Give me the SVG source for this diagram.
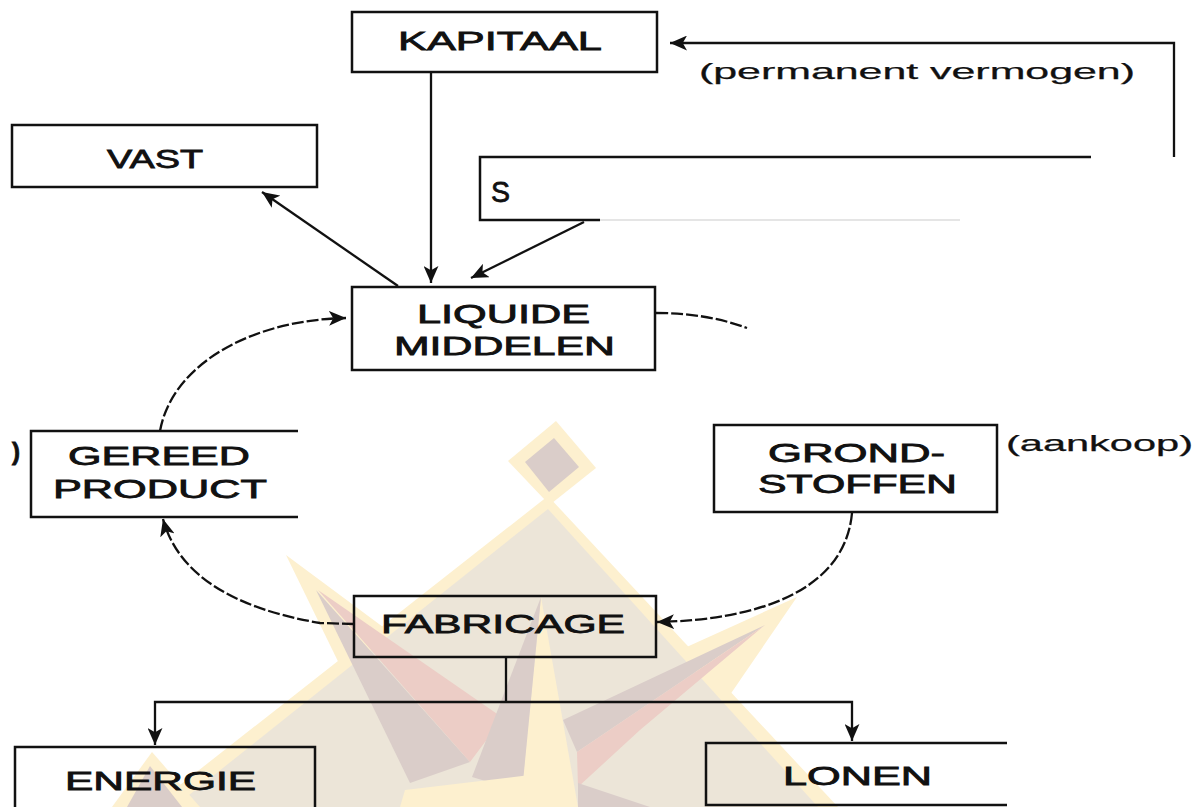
<svg xmlns="http://www.w3.org/2000/svg" width="1198" height="807" viewBox="0 0 1198 807">
<style>
.box{fill:none;stroke:#111;stroke-width:2.5}
.lbl{font-family:"Liberation Sans",Arial,sans-serif;font-size:26px;fill:#111;stroke:#111;stroke-width:0.8}
.note{font-family:"Liberation Sans",Arial,sans-serif;font-size:22px;fill:#111;stroke:#111;stroke-width:0.25}
.con{fill:none;stroke:#111;stroke-width:2.3}
.dash{stroke-dasharray:12 3}
.cream{fill:#fdf0cf}
.beige{fill:#ece5d8}
.mauve{fill:#dacdc9}
.pink{fill:#eccdc6}
</style>
<defs>
<marker id="ah" viewBox="0 0 16 14" refX="16" refY="7" markerWidth="17" markerHeight="15" markerUnits="userSpaceOnUse" orient="auto">
<path d="M0,0 L16,7 L0,14 L4,7 z" fill="#111"/>
</marker>
</defs>
<rect width="1198" height="807" fill="#fff"/>
<g id="watermark">
<polygon class="cream" points="286,555 352,690 515,725"/>
<polygon class="cream" points="797,597 680,650 723,705"/>
<polygon class="cream" points="508,461 556,421 596,468 552,503 556,515 540,515 545,500"/>
<polygon class="cream" points="548,496 152,807 838,807"/>
<polygon class="beige" points="548,509 174,807 818,807"/>
<polygon class="mauve" points="525,462 554,438 579,467 549,492"/>
<polygon class="mauve" points="316,590 410,783 470,762"/>
<polygon class="pink" points="318,590 470,762 503,718"/>
<polygon class="mauve" points="765,625 563,720 577,752"/>
<polygon class="pink" points="765,625 577,752 578,787 640,730"/>
<polygon class="cream" points="541,597 520,807 578,807"/>
<polygon class="mauve" points="541,597 472,777 522,792"/>
<polygon class="cream" points="405,790 530,775 525,807 400,807"/>
<polygon class="mauve" points="578,783 650,807 578,807"/>
<polygon class="cream" points="152,752 112,807 200,807"/>
<polygon class="mauve" points="150,766 127,807 182,807"/>
</g>
<g id="connectors">
<path class="con" d="M1174,157 V43 H670" marker-end="url(#ah)"/>
<path class="con" d="M431,72 V283" marker-end="url(#ah)"/>
<path class="con" d="M584,222 L471,278" marker-end="url(#ah)"/>
<path class="con" d="M398,286 L262,192" marker-end="url(#ah)"/>
<path class="con dash" d="M160,431 C172,365 250,320 346,318" marker-end="url(#ah)"/>
<path class="con dash" d="M656,313 C690,313 720,318 747,328"/>
<path class="con dash" d="M354,624 L320,623 Q185,600 163,519" marker-end="url(#ah)"/>
<path class="con dash" d="M852,513 C845,590 760,620 657,622" marker-end="url(#ah)"/>
<path class="con" d="M506,657 V702"/>
<path class="con" d="M506,702 H155 V745" marker-end="url(#ah)"/>
<path class="con" d="M506,702 H852 V741" marker-end="url(#ah)"/>
</g>
<g id="kapitaal">
<rect class="box" x="352" y="12" width="305" height="60"/>
<text class="lbl" x="398" y="50" textLength="204" lengthAdjust="spacingAndGlyphs">KAPITAAL</text>
</g>
<g id="permanent-label">
<text class="note" x="699" y="79" textLength="436" lengthAdjust="spacingAndGlyphs">(permanent vermogen)</text>
</g>
<g id="vast">
<rect class="box" x="12" y="125" width="305" height="62"/>
<text class="lbl" x="107" y="168" textLength="96" lengthAdjust="spacingAndGlyphs">VAST</text>
</g>
<g id="s-box">
<path class="box" d="M1091,157 H480 V220 H600"/>
<path d="M600,220 H960" fill="none" stroke="#ccc" stroke-width="1.2"/>
<text class="lbl" x="491" y="202" style="font-size:30px" textLength="19" lengthAdjust="spacingAndGlyphs">S</text>
</g>
<g id="liquide">
<rect class="box" x="352" y="287" width="303" height="83"/>
<text class="lbl" x="417" y="323" textLength="173" lengthAdjust="spacingAndGlyphs">LIQUIDE</text>
<text class="lbl" x="394" y="355" textLength="221" lengthAdjust="spacingAndGlyphs">MIDDELEN</text>
</g>
<g id="gereed">
<path class="box" d="M298,431 H31 V517 H298"/>
<text class="lbl" x="68" y="465" textLength="182" lengthAdjust="spacingAndGlyphs">GEREED</text>
<text class="lbl" x="53" y="498" textLength="214" lengthAdjust="spacingAndGlyphs">PRODUCT</text>
<text class="lbl" x="12" y="460" style="font-size:24px;font-weight:bold">)</text>
</g>
<g id="grondstoffen">
<rect class="box" x="714" y="425" width="283" height="87"/>
<text class="lbl" x="768" y="462" textLength="177" lengthAdjust="spacingAndGlyphs">GROND-</text>
<text class="lbl" x="758" y="493" textLength="199" lengthAdjust="spacingAndGlyphs">STOFFEN</text>
</g>
<g id="aankoop-label">
<text class="note" x="1006" y="451" textLength="187" lengthAdjust="spacingAndGlyphs">(aankoop)</text>
</g>
<g id="fabricage">
<rect class="box" x="354" y="596" width="302" height="61"/>
<text class="lbl" x="381" y="633" textLength="244" lengthAdjust="spacingAndGlyphs">FABRICAGE</text>
</g>
<g id="energie">
<path class="box" d="M15,808 V747 H315 V808"/>
<text class="lbl" x="65" y="790" textLength="191" lengthAdjust="spacingAndGlyphs">ENERGIE</text>
</g>
<g id="lonen">
<path class="box" d="M1007,743 H706 V805 H1007"/>
<text class="lbl" x="783" y="785" textLength="149" lengthAdjust="spacingAndGlyphs">LONEN</text>
</g>
</svg>
